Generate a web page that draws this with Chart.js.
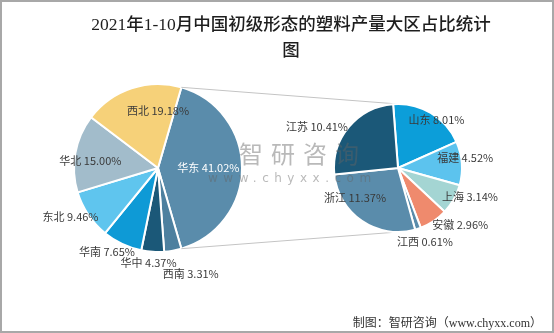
<!DOCTYPE html>
<html>
<head>
<meta charset="utf-8">
<script src="https://cdn.jsdelivr.net/npm/chart.js@4.4.1/dist/chart.umd.min.js"></script>
<style>
  body { margin: 0; background: #fff; }
  #wrap { position: relative; width: 554px; height: 333px; overflow: hidden; background: #fff; }
  #wrap canvas { position: absolute; left: 0; top: 0; }
  #frame { position: absolute; left: 0; top: 0; right: 0; bottom: 0; border: 2px solid #a8a8a8; pointer-events: none; }
  #title {
    position: absolute; left: 71px; width: 440px; top: 11px;
    text-align: center; font: 500 17.5px/26px "Liberation Serif", "Noto Sans CJK SC", serif; color: #1e1e1e;
  }
  #mark { position: absolute; left: 239px; top: 138px; font: 24px/30px "Noto Sans CJK SC", sans-serif;
    letter-spacing: 8px; color: rgba(100, 100, 100, 0.45); pointer-events: none; }
  #markUrl { position: absolute; left: 208px; top: 171px; font: 12px/14px "DejaVu Sans", sans-serif;
    letter-spacing: 5.5px; color: rgba(100, 100, 100, 0.45); pointer-events: none; }
  #source {
    position: absolute; right: 12px; top: 315px;
    font: 12px/16px "Liberation Serif", "Noto Sans CJK SC", serif; color: #333;
  }
</style>
</head>
<body>
<div id="wrap">
  <canvas id="leftPie" width="554" height="333"></canvas>
  <canvas id="rightPie" width="554" height="333"></canvas>
  <div id="title">2021年1-10月中国初级形态的塑料产量大区占比统计<br>图</div>
  <div id="mark">智研咨询</div>
  <div id="markUrl">www.chyxx.com</div>
  <div id="source">制图：智研咨询（www.chyxx.com）</div>
  <div id="frame"></div>
</div>
<script>
// 大区（华东 = 右侧子饼的合计）
var regionNames = ['华东', '西南', '华中', '华南', '东北', '华北', '西北'];
var regionValues = [41.02, 3.31, 4.37, 7.65, 9.46, 15.00, 19.18];
var regionColors = ['#5a8cab', '#4d809f', '#1b5878', '#0e9ad6', '#5fc5ee', '#a2bccb', '#f6d179'];

// 华东各省
var provinceNames = ['山东', '福建', '上海', '安徽', '江西', '浙江', '江苏'];
var provinceValues = [8.01, 4.52, 3.14, 2.96, 0.61, 11.37, 10.41];
var provinceColors = ['#0c9ed9', '#5cc3ee', '#a4d5d3', '#ef8a6d', '#5a8cab', '#5a8cab', '#1b5878'];

// label placement: [angle shift in degrees, distance as share of radius]
var regionPlace = [[0, 0.6], [-7, 1.32], [2, 1.14], [6, 1.17], [5, 1.19], [-4, 0.81], [18.4, 0.68]];
var provincePlace = [[8, 0.96], [-4, 1.06], [-7.6, 1.21], [-13.5, 1.32], [-1.8, 1.23], [20.7, 0.82], [-13, 1.42]];

function labelPlugin(names, values, place, whiteIdx) {
  return {
    id: 'sliceLabels',
    afterDatasetsDraw: function (chart) {
      var ctx = chart.ctx;
      var arcs = chart.getDatasetMeta(0).data;
      ctx.save();
      ctx.font = '11px "Noto Sans CJK SC", sans-serif';
      ctx.textAlign = 'center';
      ctx.textBaseline = 'middle';
      arcs.forEach(function (arc, i) {
        var mid = (arc.startAngle + arc.endAngle) / 2 + place[i][0] * Math.PI / 180;
        var r = arc.outerRadius * place[i][1];
        ctx.fillStyle = i === whiteIdx ? '#ffffff' : '#3a3a3a';
        ctx.fillText(names[i] + ' ' + values[i].toFixed(2) + '%',
          arc.x + Math.cos(mid) * r, arc.y + Math.sin(mid) * r);
      });
      ctx.restore();
    }
  };
}

function pieOptions(rotation, pad) {
  return {
    responsive: false,
    animation: false,
    rotation: rotation,
    layout: { padding: pad },
    plugins: { legend: { display: false }, tooltip: { enabled: false } }
  };
}

var leftChart = new Chart(document.getElementById('leftPie'), {
  type: 'pie',
  data: {
    labels: regionNames,
    datasets: [{ data: regionValues, backgroundColor: regionColors, borderColor: '#fff', borderWidth: 2, radius: 84 }]
  },
  options: pieOptions(90 - regionValues[0] * 1.8, { left: 0, right: 238, top: 40, bottom: 37 }),
  plugins: [labelPlugin(regionNames, regionValues, regionPlace, 0)]
});

// connector lines from the 华东 slice to the sub pie
var connectors = {
  id: 'connectors',
  beforeDatasetsDraw: function (chart) {
    var big = leftChart.getDatasetMeta(0).data[0];
    var sub = chart.getDatasetMeta(0).data[0];
    var R = sub.outerRadius;
    var ctx = chart.ctx;
    ctx.save();
    ctx.strokeStyle = '#c4c4c4';
    ctx.lineWidth = 1;
    ctx.beginPath();
    ctx.moveTo(big.x + Math.cos(big.startAngle) * big.outerRadius, big.y + Math.sin(big.startAngle) * big.outerRadius);
    ctx.lineTo(sub.x, sub.y - R);
    ctx.moveTo(big.x + Math.cos(big.endAngle) * big.outerRadius, big.y + Math.sin(big.endAngle) * big.outerRadius);
    ctx.lineTo(sub.x, sub.y + R);
    ctx.stroke();
    ctx.restore();
  }
};

new Chart(document.getElementById('rightPie'), {
  type: 'pie',
  data: {
    labels: provinceNames,
    datasets: [{ data: provinceValues, backgroundColor: provinceColors, borderColor: '#fff', borderWidth: 2, radius: 64 }]
  },
  options: pieOptions(-4.4, { left: 270, right: 28, top: 40, bottom: 37 }),
  plugins: [connectors, labelPlugin(provinceNames, provinceValues, provincePlace, -1)]
});
</script>
</body>
</html>
